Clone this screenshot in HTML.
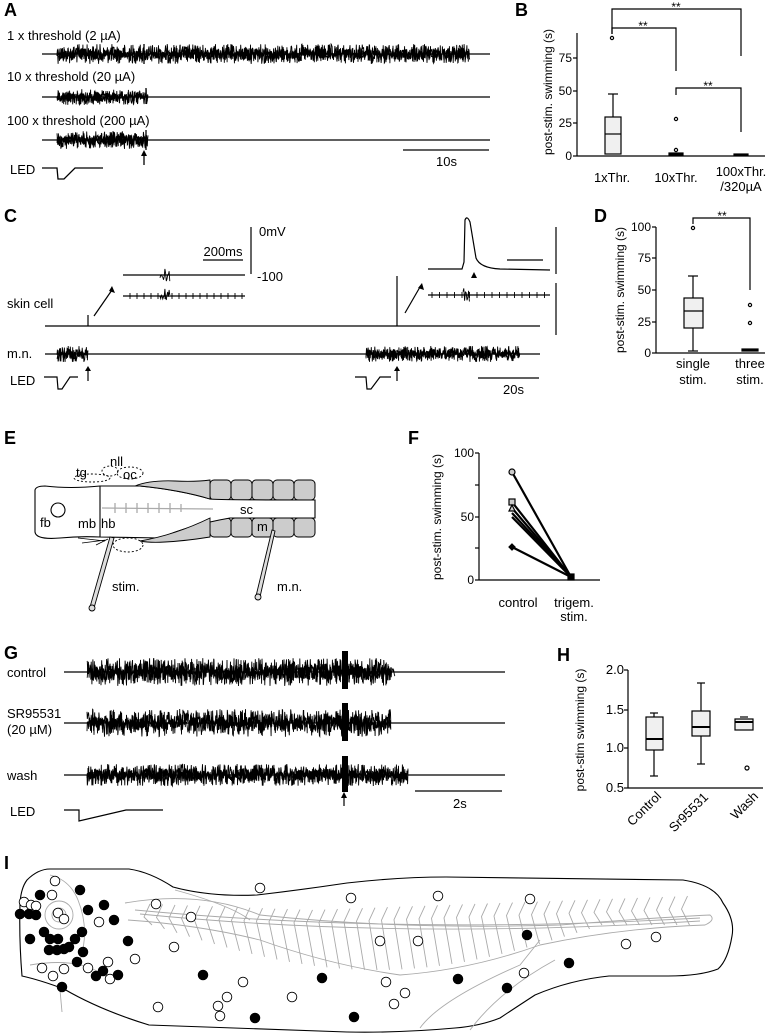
<!DOCTYPE html>
<html><head><meta charset="utf-8">
<style>
html,body{margin:0;padding:0;background:#fff;}
svg{display:block;font-family:"Liberation Sans",Arial,sans-serif;}
.L{font-weight:bold;font-size:18px;}
.t{font-size:13px;}
.s{font-size:12px;}
</style></head><body>
<svg id="S" width="777" height="1034" viewBox="0 0 777 1034" xmlns="http://www.w3.org/2000/svg">
<g id="noise" stroke="#000" fill="none" stroke-width="0.9"></g>
<g fill="none" stroke="#000" stroke-width="1.3">
<line x1="42" y1="54" x2="490" y2="54"/>
<line x1="42" y1="97" x2="490" y2="97"/>
<line x1="42" y1="140" x2="490" y2="140"/>
<line x1="144" y1="44" x2="144" y2="64"/>
<line x1="146" y1="88" x2="146" y2="104"/>
<line x1="146" y1="130" x2="146" y2="150"/>
<polyline points="42,168 57,168 58,179 64,179 75,168 103,168"/>
<line x1="403" y1="150" x2="489" y2="150"/>
<line x1="144" y1="165" x2="144" y2="154"/>
</g>
<polygon points="141,156 147,156 144,150" fill="#000"/>
<text class="L" x="4" y="16">A</text>
<text class="t" x="7" y="40">1 x threshold (2 µA)</text>
<text class="t" x="7" y="81">10 x threshold (20 µA)</text>
<text class="t" x="7" y="125">100 x threshold (200 µA)</text>
<text class="t" x="10" y="174">LED</text>
<text class="t" x="436" y="166">10s</text>

<!-- B -->
<text class="L" x="515" y="16">B</text>
<g stroke="#000" fill="none" stroke-width="1.2">
<line x1="577" y1="33" x2="577" y2="156"/><line x1="577" y1="156" x2="765" y2="156"/>
<line x1="573" y1="58" x2="577" y2="58"/><line x1="573" y1="91" x2="577" y2="91"/><line x1="573" y1="123" x2="577" y2="123"/><line x1="573" y1="156" x2="577" y2="156"/>
<rect x="605" y="117" width="16" height="37" fill="#f0f0f0"/>
<line x1="605" y1="134" x2="621" y2="134"/>
<line x1="613" y1="94" x2="613" y2="117"/><line x1="608" y1="94" x2="618" y2="94"/>
<circle cx="612" cy="38" r="1.6"/>
<rect x="669" y="153" width="14" height="2" fill="#000"/>
<circle cx="676" cy="119" r="1.6"/><circle cx="676" cy="150" r="1.6"/>
<rect x="734" y="154" width="14" height="1.5" fill="#000"/>
<polyline points="612,34 612,9 741,9 741,56"/>
<polyline points="612,34 612,28 676,28 676,71"/>
<polyline points="676,95 676,88 741,88 741,132"/>
</g>
<text class="s" x="676" y="11" text-anchor="middle">**</text>
<text class="s" x="643" y="30" text-anchor="middle">**</text>
<text class="s" x="708" y="90" text-anchor="middle">**</text>
<g class="s" text-anchor="end"><text x="572" y="62">75</text><text x="572" y="95">50</text><text x="572" y="127">25</text><text x="572" y="160">0</text></g>
<text class="s" transform="translate(552,92) rotate(-90)" text-anchor="middle">post-stim. swimming (s)</text>
<g class="t" text-anchor="middle"><text x="612" y="182">1xThr.</text><text x="676" y="182">10xThr.</text><text x="741" y="176">100xThr.</text><text x="741" y="191">/320µA</text></g>

<!-- C -->
<text class="L" x="4" y="222">C</text>
<g stroke="#000" fill="none" stroke-width="1.2">
<line x1="45" y1="326" x2="540" y2="326"/>
<line x1="88" y1="326" x2="88" y2="315"/>
<line x1="397" y1="326" x2="397" y2="276"/>
<line x1="45" y1="354" x2="540" y2="354"/>
<line x1="123" y1="275" x2="245" y2="275"/>
<line x1="123" y1="296" x2="245" y2="296"/>
<line x1="251" y1="227" x2="251" y2="274"/>
<line x1="203" y1="260" x2="243" y2="260"/>
<line x1="94" y1="316" x2="112" y2="290"/>
<line x1="405" y1="313" x2="420" y2="287"/>
<line x1="556" y1="227" x2="556" y2="274"/>
<line x1="556" y1="283" x2="556" y2="335"/>
<path d="M428,269 L462,269 L464,262 L465,220 Q467,215 470,222 L476,258 Q480,268 500,269 L550,270"/>
<line x1="507" y1="260" x2="543" y2="260"/>
<line x1="428" y1="295" x2="550" y2="295"/>
<line x1="88" y1="381" x2="88" y2="371"/><line x1="397" y1="381" x2="397" y2="371"/>
<polyline points="44,377 57,377 58,389 62,389 70,377 78,377"/>
<polyline points="355,377 366,377 367,389 371,389 380,377 391,377"/>
<line x1="478" y1="378" x2="539" y2="378"/>
</g>
<g fill="#000">
<polygon points="112,286 115,293 109,291"/>
<polygon points="422,283 424,290 418,288"/>
<polygon points="471,278 477,278 474,272"/>
<polygon points="85,371 91,371 88,366"/><polygon points="394,371 400,371 397,366"/>
</g>
<text class="t" x="259" y="236">0mV</text>
<text class="t" x="257" y="281">-100</text>
<text class="t" x="223" y="256" text-anchor="middle">200ms</text>
<text class="t" x="7" y="308">skin cell</text>
<text class="t" x="7" y="358">m.n.</text>
<text class="t" x="10" y="385">LED</text>
<text class="t" x="503" y="394">20s</text>

<!-- D -->
<text class="L" x="594" y="222">D</text>
<g stroke="#000" fill="none" stroke-width="1.2">
<line x1="656" y1="227" x2="656" y2="353"/><line x1="656" y1="353" x2="765" y2="353"/>
<line x1="652" y1="227" x2="656" y2="227"/><line x1="652" y1="258" x2="656" y2="258"/><line x1="652" y1="290" x2="656" y2="290"/><line x1="652" y1="322" x2="656" y2="322"/><line x1="652" y1="353" x2="656" y2="353"/>
<rect x="684" y="298" width="19" height="30" fill="#f0f0f0"/>
<line x1="684" y1="311" x2="703" y2="311"/>
<line x1="693" y1="276" x2="693" y2="298"/><line x1="688" y1="276" x2="698" y2="276"/>
<line x1="693" y1="328" x2="693" y2="351"/><line x1="688" y1="351" x2="698" y2="351"/>
<circle cx="693" cy="228" r="1.6"/>
<circle cx="750" cy="305" r="1.6"/><circle cx="750" cy="323" r="1.6"/>
<rect x="742" y="349" width="16" height="2" fill="#000"/>
<polyline points="693,224 693,218 750,218 750,290"/>
</g>
<text class="s" x="722" y="220" text-anchor="middle">**</text>
<g class="s" text-anchor="end"><text x="651" y="231">100</text><text x="651" y="262">75</text><text x="651" y="294">50</text><text x="651" y="326">25</text><text x="651" y="357">0</text></g>
<text class="s" transform="translate(624,290) rotate(-90)" text-anchor="middle">post-stim. swimming (s)</text>
<g class="t" text-anchor="middle"><text x="693" y="368">single</text><text x="693" y="384">stim.</text><text x="750" y="368">three</text><text x="750" y="384">stim.</text></g>

<!-- E -->
<text class="L" x="4" y="444">E</text>
<g stroke="#000" stroke-width="1" fill="#ccc">
<rect x="210" y="480" width="21" height="20" rx="4"/><rect x="231" y="480" width="21" height="20" rx="4"/><rect x="252" y="480" width="21" height="20" rx="4"/><rect x="273" y="480" width="21" height="20" rx="4"/><rect x="294" y="480" width="21" height="20" rx="4"/>
<rect x="210" y="518" width="21" height="19" rx="4"/><rect x="231" y="518" width="21" height="19" rx="4"/><rect x="252" y="518" width="21" height="19" rx="4"/><rect x="273" y="518" width="21" height="19" rx="4"/><rect x="294" y="518" width="21" height="19" rx="4"/>
</g>
<g stroke="#000" stroke-width="1.1" fill="#fff">
<path d="M35,490 Q36,486 45,486 Q70,489 100,486 L140,486 Q180,490 210,499 Q220,500 315,500 L315,518 L230,518 Q190,525 160,538 L100,537 Q80,536 60,538 Q36,540 35,532 Z"/>
<line x1="100" y1="486" x2="100" y2="537"/>
<circle cx="58" cy="510" r="7"/>
</g>
<g stroke="#000" stroke-width="0.9" fill="#ccc">
<path d="M135,486 Q150,480 175,481 Q195,482 210,480 L210,499 Q180,490 140,486 Z"/>
<path d="M140,541 Q175,535 210,518 L210,537 Q185,541 165,542 Q150,543 140,541 Z"/>
</g>
<g stroke="#aaa" stroke-width="1.3" fill="none">
<path d="M102,508 L213,509"/>
<path d="M115,503 v10 M126,503 v10 M137,503 v10 M148,503 v10 M159,503 v10 M170,503 v10 M181,504 v8"/>
</g>
<g stroke="#000" stroke-width="0.9" fill="none" stroke-dasharray="2,2">
<ellipse cx="130" cy="473" rx="13" ry="6"/><ellipse cx="92" cy="478" rx="18" ry="4"/><ellipse cx="128" cy="545" rx="15" ry="7"/><ellipse cx="110" cy="471" rx="8" ry="5"/>
</g>
<g stroke="#000" stroke-width="0.9" fill="#ddd">
<path d="M110,537 L114,538 L94,608 L90,607 Z"/>
<circle cx="92" cy="608" r="3"/>
<path d="M272,530 L275,531 L260,597 L256,596 Z"/>
<circle cx="258" cy="597" r="3"/>
</g>
<g stroke="#000" stroke-width="0.8" fill="none"><path d="M78,538 L105,541 M82,543 L106,540 M96,545 L108,539"/></g>
<g class="t"><text x="110" y="466">nll</text><text x="76" y="477">tg</text><text x="123" y="479">oc</text><text x="40" y="527">fb</text><text x="78" y="528">mb</text><text x="101" y="528">hb</text><text x="240" y="514">sc</text><text x="257" y="531">m</text><text x="112" y="591">stim.</text><text x="277" y="591">m.n.</text></g>

<!-- F -->
<text class="L" x="408" y="444">F</text>
<g stroke="#000" fill="none" stroke-width="1.2">
<line x1="479" y1="453" x2="479" y2="580"/><line x1="479" y1="580" x2="600" y2="580"/>
<line x1="475" y1="453" x2="479" y2="453"/><line x1="475" y1="485" x2="479" y2="485"/><line x1="475" y1="517" x2="479" y2="517"/><line x1="475" y1="548" x2="479" y2="548"/><line x1="475" y1="580" x2="479" y2="580"/>
</g>
<g stroke="#000" fill="none" stroke-width="2.2">
<line x1="512" y1="472" x2="571" y2="577"/><line x1="512" y1="502" x2="571" y2="577"/><line x1="512" y1="508" x2="571" y2="577"/><line x1="512" y1="513" x2="571" y2="577"/><line x1="512" y1="517" x2="571" y2="577"/><line x1="512" y1="547" x2="571" y2="577"/>
</g>
<g stroke="#000" stroke-width="1.2"><circle cx="512" cy="472" r="3" fill="#ccc"/><rect x="509" y="499" width="6" height="6" fill="#ccc"/><polygon points="512,505 515,511 509,511" fill="#ccc"/><polygon points="512,544 515,547 512,550 509,547" fill="#000"/><rect x="568" y="574" width="6" height="6" fill="#000"/></g>
<g class="s" text-anchor="end"><text x="474" y="457">100</text><text x="474" y="521">50</text><text x="474" y="584">0</text></g>
<text class="s" transform="translate(441,517) rotate(-90)" text-anchor="middle">post-stim. swimming (s)</text>
<g class="t" text-anchor="middle"><text x="518" y="607">control</text><text x="574" y="607">trigem.</text><text x="574" y="621">stim.</text></g>

<!-- G -->
<text class="L" x="4" y="659">G</text>
<g stroke="#000" fill="none" stroke-width="1.2">
<line x1="64" y1="672" x2="505" y2="672"/><line x1="64" y1="723" x2="505" y2="723"/><line x1="64" y1="775" x2="505" y2="775"/>
<line x1="415" y1="791" x2="502" y2="791"/>
<polyline points="64,810 79,810 79,821 126,810 163,810"/>
<line x1="344" y1="806" x2="344" y2="798"/>
</g>
<g fill="#000"><rect x="342" y="651" width="6" height="38"/><rect x="342" y="703" width="6" height="38"/><rect x="342" y="756" width="6" height="36"/><polygon points="341,798 347,798 344,792"/></g>
<text class="t" x="7" y="677">control</text>
<text class="t" x="7" y="718">SR95531</text>
<text class="t" x="7" y="734">(20 µM)</text>
<text class="t" x="7" y="780">wash</text>
<text class="t" x="10" y="816">LED</text>
<text class="t" x="453" y="808">2s</text>

<!-- H -->
<text class="L" x="557" y="661">H</text>
<g stroke="#000" fill="none" stroke-width="1.2">
<line x1="628" y1="670" x2="628" y2="788"/><line x1="628" y1="788" x2="763" y2="788"/>
<line x1="624" y1="670" x2="628" y2="670"/><line x1="624" y1="710" x2="628" y2="710"/><line x1="624" y1="748" x2="628" y2="748"/><line x1="624" y1="788" x2="628" y2="788"/>
<rect x="646" y="717" width="17" height="33" fill="#f0f0f0"/><line x1="646" y1="739" x2="663" y2="739" stroke-width="2"/>
<line x1="654" y1="713" x2="654" y2="717"/><line x1="650" y1="713" x2="658" y2="713"/><line x1="654" y1="750" x2="654" y2="776"/><line x1="650" y1="776" x2="658" y2="776"/>
<rect x="692" y="711" width="18" height="25" fill="#f0f0f0"/><line x1="692" y1="727" x2="710" y2="727" stroke-width="2"/>
<line x1="701" y1="683" x2="701" y2="711"/><line x1="697" y1="683" x2="705" y2="683"/><line x1="701" y1="736" x2="701" y2="764"/><line x1="697" y1="764" x2="705" y2="764"/>
<rect x="735" y="719" width="18" height="11" fill="#f0f0f0"/><line x1="735" y1="722" x2="753" y2="722" stroke-width="2"/>
<line x1="740" y1="717" x2="748" y2="717"/>
<circle cx="747" cy="768" r="2"/>
</g>
<g class="t" text-anchor="end"><text x="624" y="674">2.0</text><text x="624" y="714">1.5</text><text x="624" y="752">1.0</text><text x="624" y="792">0.5</text></g>
<text class="s" transform="translate(584,730) rotate(-90)" text-anchor="middle">post-stim swimming (s)</text>
<g class="t" text-anchor="end"><text transform="translate(662,797) rotate(-45)">Control</text><text transform="translate(709,798) rotate(-45)">Sr95531</text><text transform="translate(759,797) rotate(-45)">Wash</text></g>

<!-- I -->
<text class="L" x="4" y="869">I</text>
<path d="M27,880 Q38,869 50,869 L129,869 Q150,872 173,887 Q210,897 257,895 Q300,890 347,883 Q400,877 446,877 L683,880 Q715,885 723,903 Q735,920 732,936 Q728,960 718,969 Q700,976 668,976 L609,976 Q570,980 535,995 Q515,1008 500,1018 Q480,1026 455,1028 Q400,1033 347,1032 L149,1025 Q100,1010 64,989 Q40,980 22,976 Q19,940 20,903 Q21,888 27,880 Z" fill="none" stroke="#000" stroke-width="1.1"/>
<g id="Igray" stroke="#aaa" stroke-width="0.9" fill="none">
<path d="M125,903 Q200,890 260,915 Q400,930 560,925 Q650,918 710,915 Q716,920 705,925 Q620,928 540,945 Q470,970 400,975 Q330,965 260,940 Q200,925 128,920"/>
<path d="M135,910 Q400,935 700,918"/>
<path d="M140,914 Q400,940 700,921"/>
<circle cx="59" cy="915" r="14"/><circle cx="59" cy="915" r="7"/>
<path d="M50,875 Q70,880 78,900 Q90,930 80,960 M30,965 Q60,960 80,965 Q100,970 110,980 M60,990 L62,1012 M175,890 Q230,905 250,920 M420,1028 Q440,1000 520,965 L540,940 M470,1030 Q500,990 555,960"/>
</g>
<g id="dots" stroke="#000" stroke-width="0.9"></g>
</svg>
<script>
(function(){
var s=12345;function r(){s=(s*1103515245+12345)%2147483648;return s/2147483648;}
var ns="http://www.w3.org/2000/svg";
var g=document.getElementById('noise');
function nz(x1,x2,y,a,st){var p=[];for(var x=x1;x<=x2;x+=st){var v=(r()*2-1);v=v*Math.abs(v)*0.5+v*0.5;p.push(x.toFixed(1)+','+(y+v*a).toFixed(1));}
var e=document.createElementNS(ns,'polyline');e.setAttribute('points',p.join(' '));g.appendChild(e);}
function dn(x1,x2,y,a){nz(x1,x2,y,a,0.35);nz(x1,x2,y,a*0.6,0.35);}
dn(57,470,54,10);dn(57,148,97,8);dn(57,148,140,9);
dn(57,88,354,8);dn(366,520,354,8);
dn(87,391,672,14);nz(348,395,672,6,0.6);
dn(87,391,723,14);dn(87,408,775,11);
nz(160,170,275,7,0.7);nz(160,170,296,8,0.7);nz(463,470,295,7,0.8);
function tick(x1,x2,y,st,h){for(var x=x1;x<=x2;x+=st){var e=document.createElementNS(ns,'line');e.setAttribute('x1',x);e.setAttribute('x2',x);e.setAttribute('y1',y-h);e.setAttribute('y2',y+h);g.appendChild(e);}}
tick(130,245,296,7,3);tick(432,548,295,7.5,3);
var gg=document.getElementById('Igray');
for(var x=150;x<=690;x+=12.5){var t=(x-150)/540;var yt=905+ (1-Math.abs(t*2-0.6))*10;var yb=925+Math.sin(Math.min(t*1.2,1)*Math.PI)*45*(t<0.9?1:0.3);
var e=document.createElementNS(ns,'path');e.setAttribute('d','M'+x+','+(yt-5)+' L'+(x-6)+','+(yt+8)+' L'+(x+2)+','+yb);gg.appendChild(e);}
var F=[[40,895],[80,890],[104,905],[88,910],[20,914],[29,914],[36,915],[114,920],[44,932],[82,932],[30,939],[50,939],[58,939],[75,939],[128,941],[49,950],[57,950],[64,949],[69,947],[83,952],[77,962],[103,971],[96,976],[118,975],[62,987],[203,975],[322,978],[458,979],[527,935],[569,963],[507,988],[255,1018],[354,1017]];
var O=[[55,881],[52,895],[24,902],[31,905],[36,906],[58,913],[64,919],[99,922],[156,904],[191,917],[260,888],[351,898],[438,896],[530,899],[380,941],[418,941],[626,944],[656,937],[174,947],[135,959],[108,962],[42,968],[64,969],[88,968],[53,976],[110,979],[243,982],[386,982],[405,993],[524,973],[227,997],[218,1006],[220,1016],[292,997],[158,1007],[394,1004]];
var d=document.getElementById('dots');
function c(p,f){var e=document.createElementNS(ns,'circle');e.setAttribute('cx',p[0]);e.setAttribute('cy',p[1]);e.setAttribute('r',4.8);e.setAttribute('fill',f);d.appendChild(e);}
O.forEach(function(p){c(p,'#fff')});F.forEach(function(p){c(p,'#000')});
})();
</script>
</body></html>
